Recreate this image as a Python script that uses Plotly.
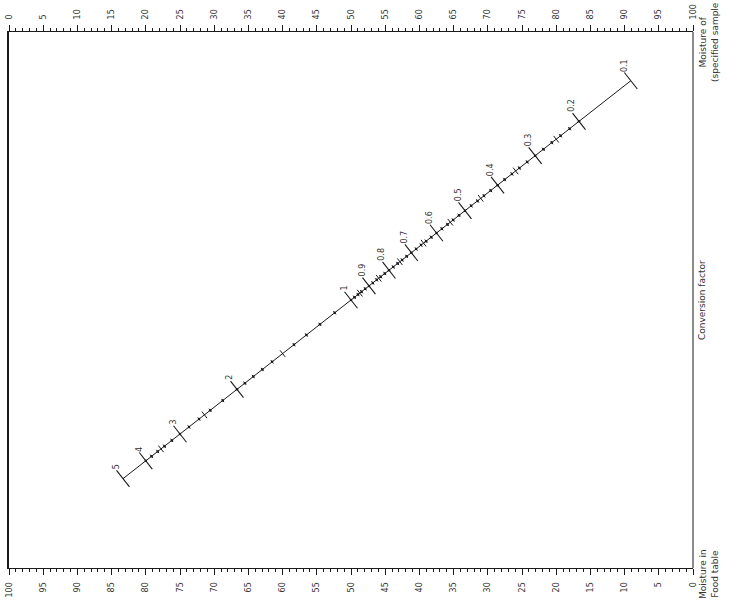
import math
import plotly.graph_objects as go

# ---- data ----
top_scale_range = [0, 100]          # Moisture of specified sample
bottom_scale_range = [100, 0]       # Moisture in food table
factor_major = [0.1, 0.2, 0.3, 0.4, 0.5, 0.6, 0.7, 0.8, 0.9, 1, 2, 3, 4, 5]
factor_major_labels = ["0.1", "0.2", "0.3", "0.4", "0.5", "0.6", "0.7", "0.8", "0.9", "1", "2", "3", "4", "5"]
factor_medium = [0.25, 0.35, 0.45, 0.55, 0.65, 0.75, 0.85, 0.95, 1.5, 2.5, 3.5]
factor_minor = [0.22, 0.24, 0.26, 0.28, 0.32, 0.34, 0.36, 0.38, 0.42, 0.44, 0.46, 0.48,
                0.52, 0.54, 0.56, 0.58, 0.62, 0.64, 0.66, 0.68, 0.72, 0.74, 0.76, 0.78,
                0.82, 0.84, 0.86, 0.88, 0.92, 0.94, 0.96, 0.98,
                1.1, 1.2, 1.3, 1.4, 1.6, 1.7, 1.8, 1.9,
                2.2, 2.4, 2.6, 2.8, 3.2, 3.4, 3.6, 3.8]

# ---- layout geometry ----
W, H = 731, 600
X0, X1 = 9, 693     # pixel x of plot area
Y0, Y1 = 32, 568    # pixel y of plot area (top, bottom)
FONT = "DejaVu Sans"
INK = "#1a1a1a"
TXT = "#333333"

# Z-nomogram: factor f lies at fraction t=f/(1+f) from the top-right corner
def fpos(f):
    t = f / (1.0 + f)
    return 100 * (1 - t), 1 - t

ang = math.degrees(math.atan2(Y1 - Y0, X1 - X0))

def pts(vals):
    xs, ys = zip(*[fpos(v) for v in vals])
    return list(xs), list(ys)

fig = go.Figure()

# diagonal line
lx, ly = pts([factor_major[0], factor_major[-1]])
fig.add_trace(go.Scatter(x=lx, y=ly, mode="lines", line=dict(color=INK, width=1),
                         hoverinfo="skip", showlegend=False))

for vals, size, w in [(factor_minor, 3, 1), (factor_medium, 6, 1), (factor_major, 15, 1.1)]:
    xs, ys = pts(vals)
    fig.add_trace(go.Scatter(x=xs, y=ys, mode="markers",
                             marker=dict(symbol="line-ns", size=size, angle=-ang,
                                         color=INK, line=dict(color=INK, width=w)),
                             hoverinfo="skip", showlegend=False))

# small dots on the scale
xs, ys = pts(factor_minor + factor_major[1:-1])
fig.add_trace(go.Scatter(x=xs, y=ys, mode="markers",
                         marker=dict(symbol="circle", size=2.5, color=INK),
                         hoverinfo="skip", showlegend=False))

# labels of the factor scale
for v, lab in zip(factor_major, factor_major_labels):
    x, y = fpos(v)
    fig.add_annotation(x=x, y=y, xref="x", yref="y", text=lab,
                       showarrow=False, textangle=-90, xanchor="center", yanchor="bottom",
                       xshift=-7, yshift=7, font=dict(family=FONT, size=8, color=TXT))

# right-hand titles
def title(xpix, ypix, text):
    fig.add_annotation(x=xpix / W, y=1 - ypix / H, xref="paper", yref="paper", text=text,
                       showarrow=False, textangle=-90, xanchor="center", yanchor="middle",
                       align="center", font=dict(family=FONT, size=9, color=TXT))

title(709, 42, "Moisture of<br>(specified sample")
title(702, 300, "Conversion factor")
title(709, 574, "Moisture in<br>Food table")

# right vertical line
fig.add_shape(type="line", xref="x domain", yref="y domain", x0=1, x1=1, y0=0, y1=1,
              line=dict(color=INK, width=1))

axis_common = dict(ticks="outside", dtick=5, ticklen=6, tickwidth=1, tickcolor=INK,
                   tickangle=-90, showgrid=False, zeroline=False, showline=True,
                   linecolor=INK, linewidth=1, automargin=False, ticklabelstandoff=4,
                   tickfont=dict(family=FONT, size=8, color=TXT),
                   minor=dict(dtick=1, ticks="outside", ticklen=3, tickcolor=INK, showgrid=False))

fig.update_layout(
    width=W, height=H,
    margin=dict(l=0, r=0, t=0, b=0, autoexpand=False),
    paper_bgcolor="white", plot_bgcolor="white",
    xaxis=dict(domain=[X0 / W, X1 / W], range=top_scale_range, side="top", anchor="y",
               **axis_common),
    xaxis2=dict(range=bottom_scale_range, overlaying="x", side="bottom", anchor="y",
                **axis_common),
    yaxis=dict(domain=[1 - Y1 / H, 1 - Y0 / H], range=[0, 1], showticklabels=False,
               ticks="", showgrid=False, zeroline=False, showline=True, automargin=False,
               linecolor=INK, linewidth=2),
    showlegend=False,
)
# dummy trace to activate xaxis2
fig.add_trace(go.Scatter(x=[0], y=[0], xaxis="x2", yaxis="y", mode="markers",
                         marker=dict(opacity=0), hoverinfo="skip", showlegend=False))

fig.write_html("out.html", config={"displayModeBar": False},
               post_script="document.body.style.margin='0';document.body.style.overflow='hidden';")
